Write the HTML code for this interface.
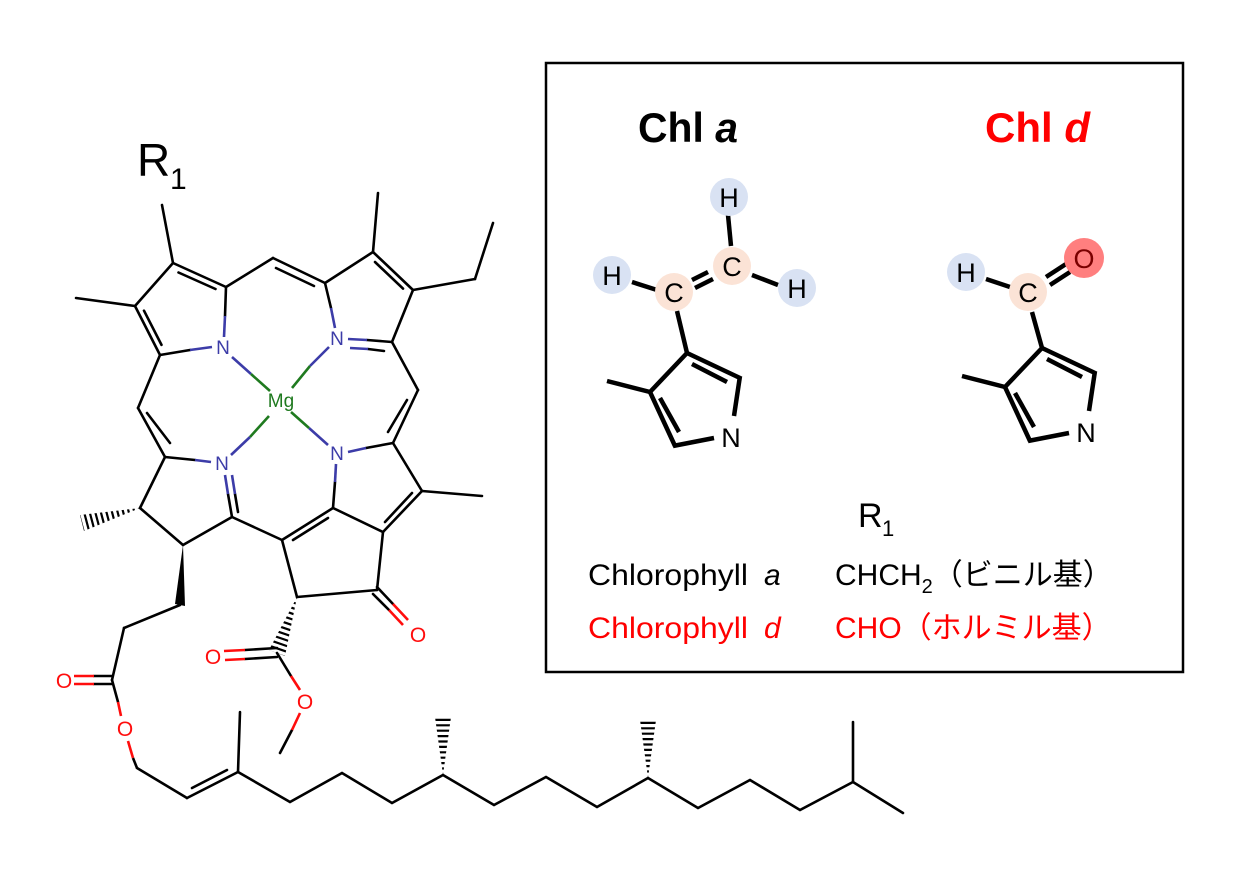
<!DOCTYPE html>
<html><head><meta charset="utf-8"><style>
html,body{margin:0;padding:0;background:#fff;width:1251px;height:888px;overflow:hidden}
svg{display:block}
text{font-family:"Liberation Sans","Noto Sans CJK JP",sans-serif}
</style></head><body>
<svg width="1251" height="888" viewBox="0 0 1251 888" xmlns="http://www.w3.org/2000/svg">
<defs>
<clipPath id="h1"><polygon points="140,508 80,515 84,531"/></clipPath>
<clipPath id="h2"><polygon points="297,597 269,650 285,656"/></clipPath>
<clipPath id="h3"><polygon points="443,775 435,717 451,717"/></clipPath>
<clipPath id="h4"><polygon points="648,778 640,720 656,720"/></clipPath>
</defs>
<g stroke="#000" stroke-width="2.6" fill="none" stroke-linecap="round">
<!-- Ring A -->
<line x1="173" y1="263" x2="226" y2="287"/>
<line x1="178.5" y1="272.5" x2="215.5" y2="289"/>
<line x1="173" y1="263" x2="135" y2="306"/>
<line x1="135" y1="306" x2="160" y2="355"/>
<line x1="144" y1="310.7" x2="161.5" y2="344.9"/>
<line x1="173" y1="263" x2="162" y2="205"/>
<line x1="135" y1="306" x2="76" y2="298"/>
<line x1="226" y1="287" x2="225" y2="316"/>
<line x1="160" y1="355" x2="190" y2="350"/>
<!-- meso top -->
<line x1="226" y1="287" x2="273" y2="258"/>
<line x1="273" y1="258" x2="325" y2="283"/>
<line x1="276" y1="268" x2="314" y2="286"/>
<!-- Ring B -->
<line x1="325" y1="283" x2="373" y2="252"/>
<line x1="325" y1="283" x2="331" y2="308"/>
<line x1="373" y1="252" x2="413" y2="290"/>
<line x1="375" y1="262" x2="403" y2="288.6"/>
<line x1="373" y1="252" x2="378" y2="193"/>
<line x1="413" y1="290" x2="392" y2="342"/>
<line x1="413" y1="290" x2="475" y2="279"/>
<line x1="475" y1="279" x2="493" y2="223"/>
<line x1="392" y1="342" x2="367" y2="340"/>
<line x1="384" y1="351" x2="368" y2="349"/>
<!-- meso right -->
<line x1="392" y1="342" x2="418" y2="390"/>
<line x1="418" y1="390" x2="393" y2="443"/>
<line x1="407" y1="400" x2="388" y2="432"/>
<!-- Ring C -->
<line x1="393" y1="443" x2="366" y2="448"/>
<line x1="393" y1="443" x2="422" y2="491"/>
<line x1="422" y1="491" x2="482" y2="496"/>
<line x1="422" y1="491" x2="383" y2="532"/>
<line x1="412" y1="493" x2="385" y2="522"/>
<line x1="333" y1="508" x2="335" y2="482"/>
<line x1="333" y1="508" x2="383" y2="532"/>
<!-- Ring E -->
<line x1="333" y1="508" x2="282" y2="540"/>
<line x1="328" y1="518" x2="293" y2="540"/>
<line x1="383" y1="532" x2="377" y2="590"/>
<line x1="377" y1="590" x2="297" y2="597"/>
<line x1="297" y1="597" x2="282" y2="540"/>
<line x1="377" y1="587" x2="393" y2="604"/>
<line x1="373" y1="594" x2="389" y2="610"/>
<!-- meso left & Ring D -->
<line x1="160" y1="355" x2="138" y2="408"/>
<line x1="138" y1="408" x2="165" y2="457"/>
<line x1="147" y1="413" x2="170" y2="443"/>
<line x1="165" y1="457" x2="195" y2="460"/>
<line x1="165" y1="457" x2="140" y2="508"/>
<line x1="140" y1="508" x2="183" y2="545"/>
<line x1="183" y1="545" x2="232" y2="517"/>
<line x1="232" y1="517" x2="282" y2="540"/>
<line x1="232" y1="517" x2="228" y2="494"/>
<line x1="238" y1="512" x2="235" y2="494"/>
<!-- side chains -->
<line x1="180" y1="605" x2="124" y2="628"/>
<line x1="124" y1="628" x2="112" y2="680"/>
<line x1="112" y1="676" x2="94" y2="676"/>
<line x1="112" y1="684" x2="94" y2="684"/>
<line x1="112" y1="680" x2="118" y2="702"/>
<line x1="137" y1="768" x2="187" y2="798"/>
<line x1="187" y1="798" x2="238" y2="772"/>
<line x1="192" y1="788" x2="227" y2="770"/>
<line x1="238" y1="772" x2="240" y2="712"/>
<polyline points="238,772 290,802 342,773 392,803 443,775 494,805 546,777 597,807 648,778 698,808 750,780 800,810 853,782 903,813"/>
<line x1="853" y1="782" x2="853" y2="722"/>
<line x1="277" y1="648" x2="245" y2="650"/>
<line x1="277" y1="657" x2="245" y2="659"/>
<line x1="277" y1="653" x2="291" y2="676"/>
<line x1="280" y1="753" x2="292" y2="730"/>
</g>
<g stroke="#3c3ca8" stroke-width="2.6" fill="none">
<line x1="225" y1="316" x2="224" y2="337"/>
<line x1="190" y1="350" x2="212" y2="347"/>
<line x1="331" y1="308" x2="335" y2="328"/>
<line x1="367" y1="340" x2="348" y2="339"/>
<line x1="368" y1="349" x2="350" y2="348"/>
<line x1="366" y1="448" x2="348" y2="452"/>
<line x1="335" y1="482" x2="336" y2="464"/>
<line x1="195" y1="460" x2="211" y2="462"/>
<line x1="228" y1="494" x2="225" y2="475"/>
<line x1="235" y1="494" x2="232" y2="475"/>
<line x1="232" y1="357" x2="251" y2="374"/>
<line x1="329" y1="347" x2="310" y2="366"/>
<line x1="231" y1="455" x2="250" y2="437"/>
<line x1="328" y1="445" x2="309" y2="428"/>
</g>
<g stroke="#1f7a1f" stroke-width="2.6" fill="none">
<line x1="251" y1="374" x2="270" y2="391"/>
<line x1="310" y1="366" x2="292" y2="388"/>
<line x1="250" y1="437" x2="269" y2="416"/>
<line x1="309" y1="428" x2="291" y2="412"/>
</g>
<g stroke="#ff0d0d" stroke-width="2.6" fill="none">
<line x1="393" y1="604" x2="408" y2="620"/>
<line x1="389" y1="610" x2="403" y2="625"/>
<line x1="94" y1="676" x2="74" y2="676"/>
<line x1="94" y1="684" x2="74" y2="684"/>
<line x1="118" y1="702" x2="121" y2="716"/>
<line x1="128" y1="741" x2="133" y2="758"/>
<line x1="245" y1="650" x2="224" y2="651"/>
<line x1="245" y1="659" x2="225" y2="660"/>
<line x1="291" y1="676" x2="300" y2="690"/>
<line x1="292" y1="730" x2="300" y2="713"/>
</g>
<line x1="133" y1="758" x2="137" y2="768" stroke="#000" stroke-width="2.6"/>
<g stroke="#000" stroke-width="20" stroke-dasharray="2.2 3.2" fill="none">
<line x1="140" y1="508" x2="80" y2="524" clip-path="url(#h1)"/>
<line x1="297" y1="597" x2="277" y2="655" clip-path="url(#h2)"/>
<line x1="443" y1="775" x2="443" y2="715" clip-path="url(#h3)"/>
<line x1="648" y1="778" x2="648" y2="718" clip-path="url(#h4)"/>
</g>
<polygon points="183,545 175,604 185,606" fill="#000"/>
<g font-size="19" text-anchor="middle">
<text x="223" y="354" fill="#3c3ca8">N</text>
<text x="337" y="345" fill="#3c3ca8">N</text>
<text x="337" y="460" fill="#3c3ca8">N</text>
<text x="222" y="470" fill="#3c3ca8">N</text>
<text x="281" y="407" fill="#1f7a1f">Mg</text>
<text x="418" y="642" font-size="21" fill="#ff0d0d">O</text>
<text x="64" y="688" font-size="21" fill="#ff0d0d">O</text>
<text x="125" y="736" font-size="21" fill="#ff0d0d">O</text>
<text x="213" y="664" font-size="21" fill="#ff0d0d">O</text>
<text x="305" y="709" font-size="21" fill="#ff0d0d">O</text>
</g>
<text x="137" y="176" font-size="46">R</text>
<text x="170" y="189" font-size="30">1</text>

<rect x="546" y="63" width="637" height="609" fill="none" stroke="#000" stroke-width="2.5"/>
<text x="638" y="142" font-size="42" font-weight="bold" textLength="100" lengthAdjust="spacingAndGlyphs">Chl <tspan font-style="italic">a</tspan></text>
<text x="985" y="142" font-size="42" font-weight="bold" fill="#ff0000" textLength="105" lengthAdjust="spacingAndGlyphs">Chl <tspan font-style="italic">d</tspan></text>

<g stroke="#000" stroke-width="4.5" fill="none" stroke-linecap="butt">
<g>
<line x1="687" y1="353" x2="740" y2="378"/>
<line x1="692" y1="364" x2="727" y2="382"/>
<line x1="687" y1="353" x2="650" y2="392"/>
<line x1="650" y1="392" x2="607" y2="381"/>
<line x1="650" y1="392" x2="675" y2="446"/>
<line x1="660" y1="398" x2="679" y2="432"/>
<line x1="673" y1="446" x2="714" y2="438"/>
<line x1="740" y1="376" x2="734" y2="416"/>
</g>
<g transform="translate(355,-5)">
<line x1="687" y1="353" x2="740" y2="378"/>
<line x1="692" y1="364" x2="727" y2="382"/>
<line x1="687" y1="353" x2="650" y2="392"/>
<line x1="650" y1="392" x2="607" y2="381"/>
<line x1="650" y1="392" x2="675" y2="446"/>
<line x1="660" y1="398" x2="679" y2="432"/>
<line x1="673" y1="446" x2="714" y2="438"/>
<line x1="740" y1="376" x2="734" y2="416"/>
</g>
<line x1="687" y1="353" x2="677" y2="311"/>
<line x1="632" y1="282" x2="657" y2="290"/>
<line x1="692" y1="280" x2="708" y2="272"/>
<line x1="695" y1="288" x2="713" y2="279"/>
<line x1="728" y1="215" x2="731" y2="246"/>
<line x1="752" y1="275" x2="778" y2="285"/>
<line x1="1042" y1="348" x2="1032" y2="312"/>
<line x1="986" y1="279" x2="1010" y2="287"/>
<line x1="1046" y1="277" x2="1066" y2="264"/>
<line x1="1050" y1="285" x2="1070" y2="272"/>
</g>
<circle cx="729" cy="197" r="19" fill="#d9e2f3"/>
<circle cx="612" cy="275" r="19" fill="#d9e2f3"/>
<circle cx="797" cy="288" r="19" fill="#d9e2f3"/>
<circle cx="674" cy="292" r="19" fill="#fbe3d6"/>
<circle cx="732" cy="266" r="19" fill="#fbe3d6"/>
<circle cx="966" cy="272" r="19" fill="#d9e2f3"/>
<circle cx="1028" cy="292" r="19" fill="#fbe3d6"/>
<circle cx="1084" cy="258" r="20" fill="#ff7f7f"/>
<g font-size="27" text-anchor="middle" fill="#000">
<text x="729" y="207">H</text>
<text x="612" y="285">H</text>
<text x="797" y="298">H</text>
<text x="674" y="302">C</text>
<text x="732" y="276">C</text>
<text x="731" y="447">N</text>
<text x="966" y="282">H</text>
<text x="1028" y="302">C</text>
<text x="1084" y="268" fill="#7a0000">O</text>
<text x="1086" y="442">N</text>
</g>

<text x="858" y="527" font-size="34">R</text>
<text x="882" y="536" font-size="22">1</text>

<text x="588" y="585" font-size="30" textLength="160" lengthAdjust="spacingAndGlyphs">Chlorophyll</text>
<text x="764" y="585" font-size="30" font-style="italic">a</text>
<text x="835" y="585" font-size="30">CHCH<tspan font-size="20" dy="8">2</tspan><tspan dy="-8">（ビニル基）</tspan></text>
<g fill="#ff0000">
<text x="588" y="638" font-size="30" textLength="160" lengthAdjust="spacingAndGlyphs">Chlorophyll</text>
<text x="764" y="638" font-size="30" font-style="italic">d</text>
<text x="835" y="638" font-size="30">CHO（ホルミル基）</text>
</g>
</svg>
</body></html>
